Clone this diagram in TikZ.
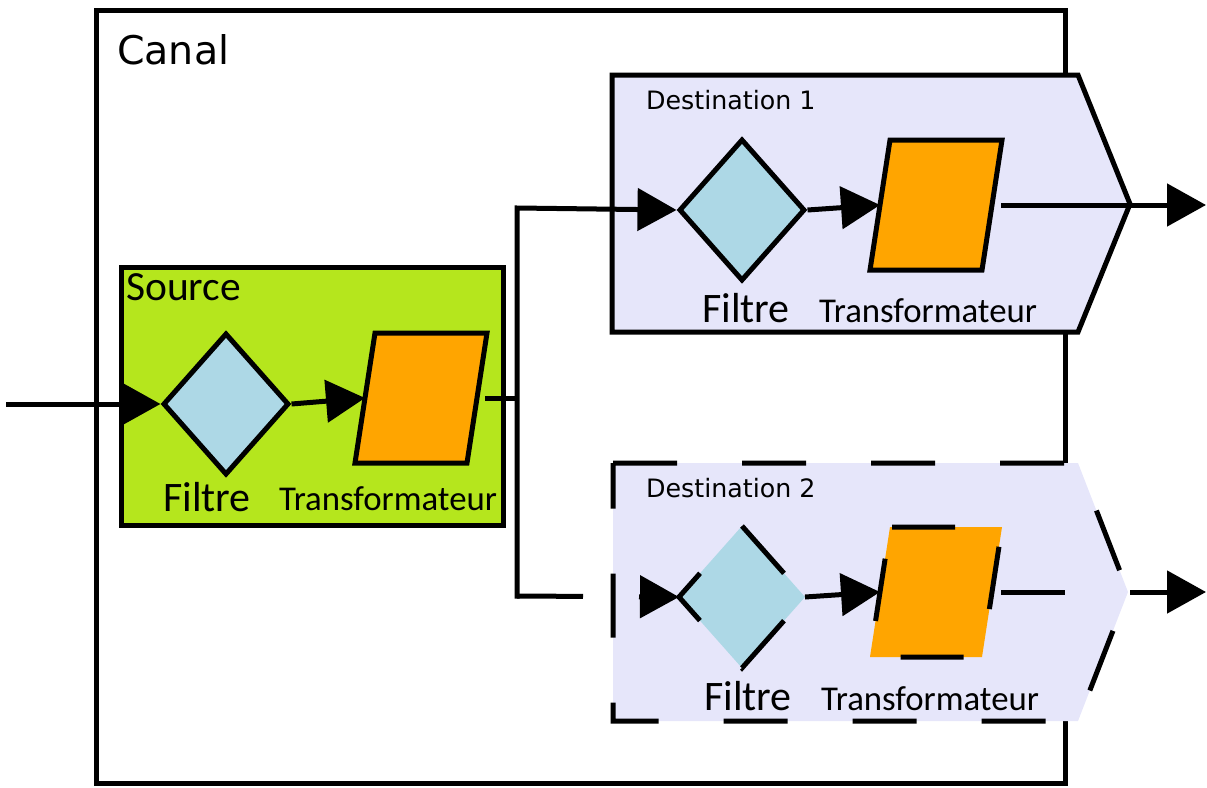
\documentclass[tikz,border=0pt]{standalone}
\usepackage{fontspec}
\setmainfont{Carlito}
\newfontfamily\titlefont{DejaVu Sans}
\usetikzlibrary{arrows.meta,shapes.geometric,calc}

\definecolor{srcgreen}{HTML}{B5E61D}
\definecolor{filterblue}{HTML}{ADD8E6}
\definecolor{transorange}{HTML}{FFA500}
\definecolor{destfill}{HTML}{E6E6FA}

% parallelogram drawn around a (rectangle) transformer node
\newcommand\drawpara[2][]{%
  \draw[frame, fill=transorange, #1]
    ([xshift=10pt]#2.north west) -- ([xshift=10pt]#2.north east) --
    ([xshift=-10pt]#2.south east) -- ([xshift=-10pt]#2.south west) -- cycle;}

\begin{document}
\begin{tikzpicture}[x=1pt,y=-1pt,
  frame/.style={line width=5pt},
  wire/.style={line width=5pt},
  flowtip/.style={-{Triangle[length=39pt,width=42pt]}},
  filtre/.style={diamond, fill=filterblue, draw, line width=5pt,
    minimum width=126pt, minimum height=142pt, inner sep=0pt},
  transfo/.style={rectangle, minimum width=112pt, minimum height=130pt,
    inner sep=0pt, outer sep=0pt},
  bigtitle/.style={anchor=west, inner sep=0pt, font=\titlefont\fontsize{39.5}{44}\selectfont},
  desttitle/.style={anchor=west, inner sep=0pt, font=\titlefont\fontsize{25.3}{30}\selectfont},
  srctitle/.style={anchor=west, inner sep=0pt, font=\fontsize{41.5}{46}\selectfont},
  filtrelabel/.style={inner sep=0pt, font=\fontsize{42}{46}\selectfont},
  translabel/.style={inner sep=0pt, font=\fontsize{34.8}{40}\selectfont}
]
\useasboundingbox (0,0) rectangle (1207,787);

% ---- Canal frame
\draw[frame] (96,10) rectangle (1065,783);
\node[bigtitle] (canal) at (117,50) {Canal};

% ---- Source
\draw[frame, fill=srcgreen] (121,267) rectangle (503,525);
\node[srctitle] (source) at (126,287) {Source};

% ---- Destination 1
\draw[frame, fill=destfill]
  (612,75) -- (1078,75) -- (1130,204) -- (1078,332) -- (612,332) -- cycle;
\node[desttitle] (dest1) at (646,100) {Destination 1};

% ---- Destination 2 (dashed)
\draw[frame, fill=destfill, dash pattern=on 64pt off 65pt]
  (613,463) -- (1078,463) -- (1128,592) -- (1078,721) -- (613,721) -- cycle;
\node[desttitle] (dest2) at (646,488) {Destination 2};

% ---- processing nodes
\node[filtre] (s-f) at (226,404) {};
\node[transfo] (s-t) at (421,398) {};
\node[filtre] (d1-f) at (742,210) {};
\node[transfo] (d1-t) at (936,205) {};
\node[filtre, draw=none, outer sep=0pt] (d2-f) at (742,597) {};
\node[transfo] (d2-t) at (936,592) {};

% ---- connectors
\coordinate (in) at (6,404);
\coordinate (split-top) at (517,208);
\coordinate (split-bot) at (517,596);
\coordinate (outx) at (1206,0);

\draw[wire, flowtip] (in) -- (s-f.west);
\draw[wire, flowtip] (s-f.east) -- (s-t.west);
\draw[wire, shorten <=8pt] (s-t.east) -- (s-t.east -| split-top);
\draw[wire, line cap=rect, flowtip] (split-bot) -- (split-top) -- (d1-f.west);
\draw[wire, dash pattern=on 66pt off 56pt, flowtip] (split-bot) -- (d2-f.west);

\draw[wire, flowtip] (d1-f.east) -- (d1-t.west);
\draw[wire, flowtip, shorten <=9pt] (d1-t.east) -- (d1-t.east -| outx);

\draw[wire, flowtip] (d2-f.east) -- (d2-t.west);
\draw[wire, flowtip, shorten <=9pt, dash pattern=on 64pt off 65pt]
  (d2-t.east) -- (d2-t.east -| outx);

% ---- shapes drawn over the wires
\drawpara{s-t}
\drawpara{d1-t}
\draw[frame, dash pattern=on 63.3pt off 63.3pt]
  (d2-f.north) -- (d2-f.east) -- (d2-f.south) -- (d2-f.west) -- cycle;
\drawpara[dash pattern=on 63pt off 67pt, dash phase=128pt]{d2-t}

% ---- labels
\node[filtrelabel] (s-fl) at (207,497) {Filtre};
\node[translabel] (s-tl) at (388,499) {Transformateur};
\node[filtrelabel] (d1-fl) at (746,308) {Filtre};
\node[translabel] (d1-tl) at (928,311) {Transformateur};
\node[filtrelabel] (d2-fl) at (748,696) {Filtre};
\node[translabel] (d2-tl) at (930,699) {Transformateur};
\end{tikzpicture}
\end{document}
